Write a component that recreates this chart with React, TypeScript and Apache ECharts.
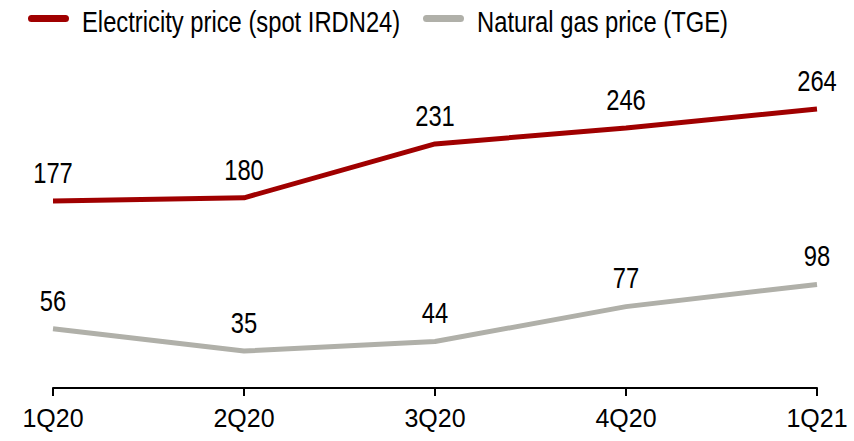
import React, { useEffect, useRef } from "react";
import * as echarts from "echarts";

const categories = ["1Q20", "2Q20", "3Q20", "4Q20", "1Q21"];
const electricity = [177, 180, 231, 246, 264];
const gas = [56, 35, 44, 77, 98];
const seriesNames = ["Electricity price (spot IRDN24)", "Natural gas price (TGE)"];
const colors = ["#a00000", "#b0b0a9"];

const FONT = '"Liberation Sans", Arial, sans-serif';
const NARROW = 0.82;

function labelSeries(values: number[]) {
  return {
    type: "custom",
    silent: true,
    clip: false,
    z: 5,
    data: values.map((v, i) => [i, v]),
    renderItem: (_params: any, api: any) => {
      const p = api.coord([api.value(0), api.value(1)]);
      return {
        type: "text",
        x: p[0],
        y: p[1] - 28,
        scaleX: NARROW,
        style: {
          text: String(api.value(1)),
          fill: "#000",
          font: `29px ${FONT}`,
          textAlign: "center",
          textVerticalAlign: "middle",
        },
      };
    },
  };
}

export default function App() {
  const ref = useRef<HTMLDivElement>(null);
  useEffect(() => {
    if (!ref.current) return;
    const chart = echarts.init(ref.current, null, { renderer: "svg" });
    chart.setOption({
      animation: false,
      backgroundColor: "#fff",
      textStyle: { fontFamily: FONT },
      graphic: [
        { type: "rect", shape: { x: 28, y: 15, width: 41, height: 7, r: 3.5 }, style: { fill: colors[0] } },
        {
          type: "text",
          x: 82,
          y: 22,
          scaleX: NARROW,
          style: { text: seriesNames[0], fill: "#000", font: `29px ${FONT}`, textAlign: "left", textVerticalAlign: "middle" },
        },
        { type: "rect", shape: { x: 423, y: 15, width: 41, height: 7, r: 3.5 }, style: { fill: colors[1] } },
        {
          type: "text",
          x: 477,
          y: 22,
          scaleX: NARROW,
          style: { text: seriesNames[1], fill: "#000", font: `29px ${FONT}`, textAlign: "left", textVerticalAlign: "middle" },
        },
      ],
      grid: { left: 53, right: 37, top: 71, bottom: 53 },
      xAxis: {
        type: "category",
        data: categories,
        boundaryGap: false,
        axisLine: { lineStyle: { color: "#000", width: 2 } },
        axisTick: { show: true, length: 8, lineStyle: { color: "#000", width: 2 } },
        axisLabel: { color: "#000", fontSize: 25, fontFamily: FONT, margin: 17 },
      },
      yAxis: {
        type: "value",
        min: 0,
        max: 300,
        show: false,
        splitLine: { show: false },
      },
      series: [
        {
          name: seriesNames[0],
          type: "line",
          data: electricity,
          lineStyle: { width: 5, color: colors[0] },
          itemStyle: { color: colors[0] },
          showSymbol: false,
        },
        {
          name: seriesNames[1],
          type: "line",
          data: gas,
          lineStyle: { width: 5, color: colors[1] },
          itemStyle: { color: colors[1] },
          showSymbol: false,
        },
        labelSeries(electricity),
        labelSeries(gas),
      ],
    });
    return () => chart.dispose();
  }, []);
  return <div ref={ref} style={{ width: 854, height: 441, position: "absolute", left: 0, top: 0 }} />;
}
